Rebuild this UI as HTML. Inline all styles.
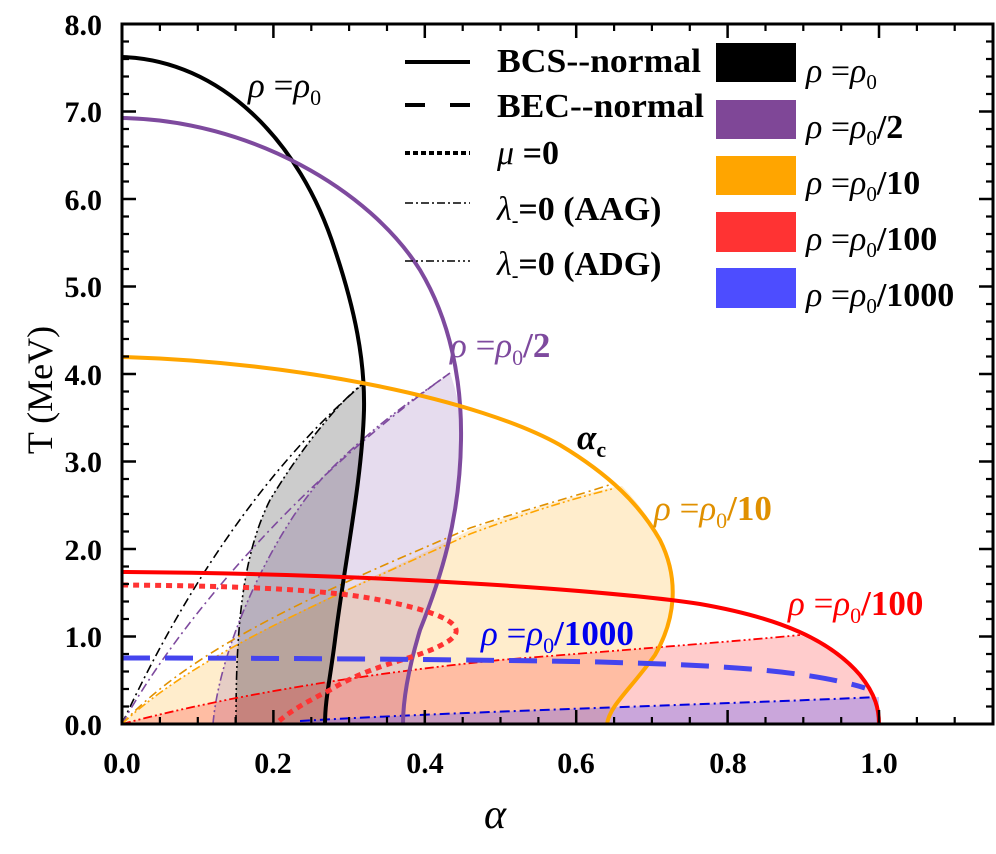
<!DOCTYPE html>
<html><head><meta charset="utf-8"><style>
body{margin:0;background:#fff}
svg{display:block}
svg text{font-family:"Liberation Serif","Times New Roman",serif}
</style></head><body>
<svg width="996" height="854" viewBox="0 0 996 854" xmlns="http://www.w3.org/2000/svg" font-family="Liberation Serif, serif">
<defs><clipPath id="c"><rect x="122" y="24" width="871" height="700"/></clipPath></defs>
<g clip-path="url(#c)">
<!-- fills -->
<path d="M122,724 C200,650 350,590 470,530 C540,505 580,495 610,488 L622,486 C640,505 652,522 660,540 C680,580 675,620 655,655 C630,690 610,705 607,724 Z" fill="rgba(255,165,0,0.2)"/>
<path d="M213,724 C220,640 280,520 330,470 C380,420 420,395 450,373 C458,395 461,415 461,440 C460,520 440,580 420,630 C408,670 403,700 403,724 Z" fill="rgba(128,80,170,0.2)"/>
<path d="M236,724 C236,640 240,560 270,500 C300,450 340,400 364,383 C364,395 364,400 364,410 C362,480 345,560 335,640 C330,680 325,700 325,724 Z" fill="rgba(0,0,0,0.2)"/>
<path d="M122,724 C250,690 400,670 500,660 C650,648 750,640 800,635 C840,650 870,680 876,700 C879,710 879,715 879,724 Z" fill="rgba(255,0,0,0.2)"/>
<path d="M300,724 L300,721 C450,712 700,705 879,697 L879,724 Z" fill="rgba(80,80,255,0.3)"/>
<!-- dash-dot lines -->
<path d="M122,724 C170,620 250,480 364,383" fill="none" stroke="#000" stroke-width="1.6" stroke-dasharray="9,4,2,4"/>
<path d="M236,724 C236,640 240,560 270,500 C300,450 340,400 364,383" fill="none" stroke="#000" stroke-width="1.6" stroke-dasharray="9,3,2,3,2,3"/>
<path d="M122,724 C180,620 300,480 450,373" fill="none" stroke="#7e4a9e" stroke-width="1.6" stroke-dasharray="9,4,2,4"/>
<path d="M213,724 C220,640 280,520 330,470 C380,420 420,395 450,373" fill="none" stroke="#7e4a9e" stroke-width="1.6" stroke-dasharray="9,3,2,3,2,3"/>
<path d="M122,724 C200,640 350,580 470,528 C540,505 580,495 612,484" fill="none" stroke="#e09000" stroke-width="1.6" stroke-dasharray="9,4,2,4"/>
<path d="M122,724 C200,650 350,590 470,534 C540,508 580,497 612,489" fill="none" stroke="#ffa500" stroke-width="1.6" stroke-dasharray="9,3,2,3,2,3"/>
<path d="M122,724 C250,690 400,670 500,660 C650,648 750,640 800,635" fill="none" stroke="#f00" stroke-width="1.8" stroke-dasharray="9,3,2,3,2,3"/>
<path d="M300,721 C450,712 700,705 879,697" fill="none" stroke="#0000e0" stroke-width="2" stroke-dasharray="10,4,2,4"/>
<!-- BCS curves -->
<path d="M122,57 C220,60 300,140 335,250 C355,310 365,360 364,410 C362,480 345,560 335,640 C330,680 325,700 325,724" fill="none" stroke="#000" stroke-width="4"/>
<path d="M122,118 C250,120 370,190 420,270 C450,320 462,380 461,440 C460,520 440,580 420,630 C408,670 403,700 403,724" fill="none" stroke="#7e4a9e" stroke-width="4"/>
<path d="M122,357 C300,362 480,400 560,445 C610,475 640,505 660,540 C680,580 675,620 655,655 C630,690 610,705 607,724" fill="none" stroke="#ffa500" stroke-width="4"/>
<path d="M122,572 C400,574 620,592 700,604 C780,618 830,640 860,675 C876,695 879,710 879,724" fill="none" stroke="#f00" stroke-width="4"/>
<path d="M122,585 C250,586 330,590 380,600 C440,612 470,625 450,640 C420,660 380,660 330,690 C300,705 285,715 276,724" fill="none" stroke="#f33" stroke-width="5" stroke-dasharray="6,5"/>
<path d="M122,658 C300,658 500,660 600,662 C700,665 800,668 865,688" fill="none" stroke="#4444ee" stroke-width="5" stroke-dasharray="28,15"/>
</g>
<!-- axes -->
<rect x="122" y="24" width="871" height="700" fill="none" stroke="#000" stroke-width="3"/>
<g stroke="#000" stroke-width="2.5">
<path d="M122,710V724M273.4,710V724M424.8,710V724M576.2,710V724M727.6,710V724M879,710V724M122,24V38M273.4,24V38M424.8,24V38M576.2,24V38M727.6,24V38M879,24V38"/>
<path d="M122,636.5H136M122,549H136M122,461.5H136M122,374H136M122,286.5H136M122,199H136M122,111.5H136M979,636.5H993M979,549H993M979,461.5H993M979,374H993M979,286.5H993M979,199H993M979,111.5H993"/>
</g>
<g stroke="#000" stroke-width="2.2">
<path d="M159.9,717V724M197.8,717V724M235.6,717V724M311.3,717V724M349.1,717V724M387,717V724M462.7,717V724M500.5,717V724M538.4,717V724M614.1,717V724M651.9,717V724M689.8,717V724M765.5,717V724M803.3,717V724M841.2,717V724M916.9,717V724M954.7,717V724
M159.9,24V31M197.8,24V31M235.6,24V31M311.3,24V31M349.1,24V31M387,24V31M462.7,24V31M500.5,24V31M538.4,24V31M614.1,24V31M651.9,24V31M689.8,24V31M765.5,24V31M803.3,24V31M841.2,24V31M916.9,24V31M954.7,24V31"/>
<path d="M122,706.5H129M122,689H129M122,671.5H129M122,654H129M122,619H129M122,601.5H129M122,584H129M122,566.5H129M122,531.5H129M122,514H129M122,496.5H129M122,479H129M122,444H129M122,426.5H129M122,409H129M122,391.5H129M122,356.5H129M122,339H129M122,321.5H129M122,304H129M122,269H129M122,251.5H129M122,234H129M122,216.5H129M122,181.5H129M122,164H129M122,146.5H129M122,129H129M122,94H129M122,76.5H129M122,59H129M122,41.5H129
M986,706.5H993M986,689H993M986,671.5H993M986,654H993M986,619H993M986,601.5H993M986,584H993M986,566.5H993M986,531.5H993M986,514H993M986,496.5H993M986,479H993M986,444H993M986,426.5H993M986,409H993M986,391.5H993M986,356.5H993M986,339H993M986,321.5H993M986,304H993M986,269H993M986,251.5H993M986,234H993M986,216.5H993M986,181.5H993M986,164H993M986,146.5H993M986,129H993M986,94H993M986,76.5H993M986,59H993M986,41.5H993"/>
</g>
<g font-size="30" font-weight="bold" text-anchor="end">
<text x="102" y="735">0.0</text><text x="102" y="647">1.0</text><text x="102" y="560">2.0</text><text x="102" y="472">3.0</text><text x="102" y="385">4.0</text><text x="102" y="297">5.0</text><text x="102" y="210">6.0</text><text x="102" y="122">7.0</text><text x="102" y="35">8.0</text>
</g>
<g font-size="30" font-weight="bold" text-anchor="middle">
<text x="122" y="773">0.0</text><text x="273" y="773">0.2</text><text x="425" y="773">0.4</text><text x="576" y="773">0.6</text><text x="728" y="773">0.8</text><text x="879" y="773">1.0</text>
</g>
<text x="495" y="828" font-size="42" font-style="italic" text-anchor="middle">α</text>
<text transform="translate(52,390) rotate(-90)" font-size="36" text-anchor="middle">T (MeV)</text>
<!-- legend lines -->
<g stroke="#000">
<path d="M405,62H470" stroke-width="4"/>
<path d="M405,105H425M450,105H470" stroke-width="4"/>
<path d="M405,153H470" stroke-width="4" stroke-dasharray="5,3"/>
<path d="M405,203H470" stroke-width="1.6" stroke-dasharray="8,3,2,3"/>
<path d="M405,261H470" stroke-width="1.6" stroke-dasharray="8,3,2,3,2,3"/>
</g>
<g font-size="34" font-weight="bold">
<text x="497" y="72" textLength="204" lengthAdjust="spacingAndGlyphs">BCS--normal</text>
<text x="497" y="117" textLength="207" lengthAdjust="spacingAndGlyphs">BEC--normal</text>
<text x="497" y="164"><tspan font-style="italic" font-weight="normal">μ</tspan> =0</text>
<text x="497" y="220"><tspan font-style="italic" font-weight="normal">λ</tspan><tspan font-size="20" dy="7">-</tspan><tspan dy="-7">=0 (AAG)</tspan></text>
<text x="497" y="275"><tspan font-style="italic" font-weight="normal">λ</tspan><tspan font-size="20" dy="7">-</tspan><tspan dy="-7">=0 (ADG)</tspan></text>
</g>
<rect x="716" y="43" width="80" height="39" fill="#000"/>
<rect x="716" y="100" width="80" height="39" fill="#7f4797"/>
<rect x="716" y="156" width="80" height="39" fill="#ffa500"/>
<rect x="716" y="212" width="80" height="40" fill="#ff3333"/>
<rect x="716" y="268" width="80" height="40" fill="#4d4dff"/>
<g font-size="34">
<text x="806" y="82"><tspan font-style="italic">ρ</tspan> =<tspan font-style="italic">ρ</tspan><tspan font-size="21" dy="7">0</tspan></text>
<text x="806" y="138"><tspan font-style="italic">ρ</tspan> =<tspan font-style="italic">ρ</tspan><tspan font-size="21" dy="7">0</tspan><tspan dy="-7" font-weight="bold">/2</tspan></text>
<text x="806" y="194"><tspan font-style="italic">ρ</tspan> =<tspan font-style="italic">ρ</tspan><tspan font-size="21" dy="7">0</tspan><tspan dy="-7" font-weight="bold">/10</tspan></text>
<text x="806" y="250"><tspan font-style="italic">ρ</tspan> =<tspan font-style="italic">ρ</tspan><tspan font-size="21" dy="7">0</tspan><tspan dy="-7" font-weight="bold">/100</tspan></text>
<text x="806" y="306"><tspan font-style="italic">ρ</tspan> =<tspan font-style="italic">ρ</tspan><tspan font-size="21" dy="7">0</tspan><tspan dy="-7" font-weight="bold">/1000</tspan></text>
</g>
<!-- curve labels -->
<g font-size="35">
<text x="248" y="97" fill="#000"><tspan font-style="italic">ρ</tspan> =<tspan font-style="italic">ρ</tspan><tspan font-size="22" dy="8">0</tspan></text>
<text x="450" y="357" fill="#7e4a9e"><tspan font-style="italic">ρ</tspan> =<tspan font-style="italic">ρ</tspan><tspan font-size="22" dy="8">0</tspan><tspan dy="-8" font-weight="bold">/2</tspan></text>
<text x="577" y="449" fill="#000" font-style="italic" font-weight="bold">α<tspan font-size="22" dy="8" font-style="normal">c</tspan></text>
<text x="654" y="520" fill="#e09000"><tspan font-style="italic">ρ</tspan> =<tspan font-style="italic">ρ</tspan><tspan font-size="22" dy="8">0</tspan><tspan dy="-8" font-weight="bold">/10</tspan></text>
<text x="788" y="615" fill="#f00"><tspan font-style="italic">ρ</tspan> =<tspan font-style="italic">ρ</tspan><tspan font-size="22" dy="8">0</tspan><tspan dy="-8" font-weight="bold">/100</tspan></text>
<text x="481" y="645" fill="#0000ee"><tspan font-style="italic">ρ</tspan> =<tspan font-style="italic">ρ</tspan><tspan font-size="22" dy="8">0</tspan><tspan dy="-8" font-weight="bold">/1000</tspan></text>
</g>
</svg>
</body></html>
